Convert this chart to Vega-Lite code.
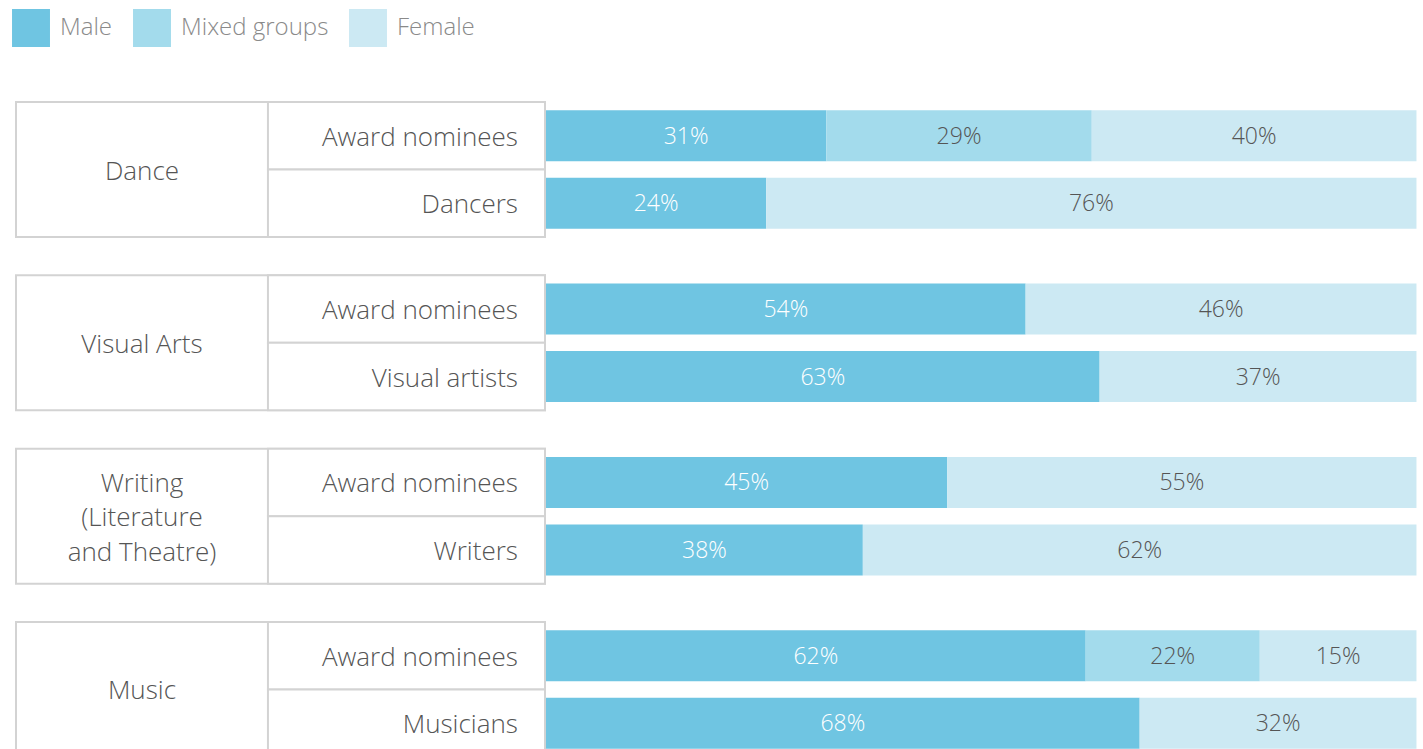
{
  "$schema": "https://vega.github.io/schema/vega-lite/v6.json",
  "width": 1423,
  "height": 749,
  "autosize": {"type": "fit", "contains": "padding"},
  "padding": 0,
  "background": "white",
  "config": {"view": {"stroke": null}, "font": "Open Sans"},
  "datasets": {
    "groups": [
      {"group": "Dance", "title": "Dance"},
      {"group": "Visual Arts", "title": "Visual Arts"},
      {"group": "Writing", "title": "Writing\n(Literature\nand Theatre)"},
      {"group": "Music", "title": "Music"}
    ],
    "rows": [
      {"group": "Dance", "kind": "Award nominees", "sub": "Award nominees"},
      {"group": "Dance", "kind": "Practitioners", "sub": "Dancers"},
      {"group": "Visual Arts", "kind": "Award nominees", "sub": "Award nominees"},
      {"group": "Visual Arts", "kind": "Practitioners", "sub": "Visual artists"},
      {"group": "Writing", "kind": "Award nominees", "sub": "Award nominees"},
      {"group": "Writing", "kind": "Practitioners", "sub": "Writers"},
      {"group": "Music", "kind": "Award nominees", "sub": "Award nominees"},
      {"group": "Music", "kind": "Practitioners", "sub": "Musicians"}
    ],
    "bars": [
      {"group": "Dance", "kind": "Award nominees", "gender": "Male", "k": 1, "value": 32.2, "label": "31%"},
      {"group": "Dance", "kind": "Award nominees", "gender": "Mixed groups", "k": 2, "value": 30.5, "label": "29%"},
      {"group": "Dance", "kind": "Award nominees", "gender": "Female", "k": 3, "value": 37.3, "label": "40%"},
      {"group": "Dance", "kind": "Practitioners", "gender": "Male", "k": 1, "value": 25.3, "label": "24%"},
      {"group": "Dance", "kind": "Practitioners", "gender": "Female", "k": 3, "value": 74.7, "label": "76%"},
      {"group": "Visual Arts", "kind": "Award nominees", "gender": "Male", "k": 1, "value": 55.1, "label": "54%"},
      {"group": "Visual Arts", "kind": "Award nominees", "gender": "Female", "k": 3, "value": 44.9, "label": "46%"},
      {"group": "Visual Arts", "kind": "Practitioners", "gender": "Male", "k": 1, "value": 63.6, "label": "63%"},
      {"group": "Visual Arts", "kind": "Practitioners", "gender": "Female", "k": 3, "value": 36.4, "label": "37%"},
      {"group": "Writing", "kind": "Award nominees", "gender": "Male", "k": 1, "value": 46.1, "label": "45%"},
      {"group": "Writing", "kind": "Award nominees", "gender": "Female", "k": 3, "value": 53.9, "label": "55%"},
      {"group": "Writing", "kind": "Practitioners", "gender": "Male", "k": 1, "value": 36.4, "label": "38%"},
      {"group": "Writing", "kind": "Practitioners", "gender": "Female", "k": 3, "value": 63.6, "label": "62%"},
      {"group": "Music", "kind": "Award nominees", "gender": "Male", "k": 1, "value": 62.0, "label": "62%"},
      {"group": "Music", "kind": "Award nominees", "gender": "Mixed groups", "k": 2, "value": 20.0, "label": "22%"},
      {"group": "Music", "kind": "Award nominees", "gender": "Female", "k": 3, "value": 18.0, "label": "15%"},
      {"group": "Music", "kind": "Practitioners", "gender": "Male", "k": 1, "value": 68.2, "label": "68%"},
      {"group": "Music", "kind": "Practitioners", "gender": "Female", "k": 3, "value": 31.8, "label": "32%"}
    ]
  },
  "layer": [
    {
      "data": {"name": "groups"},
      "mark": {"type": "rect", "fill": "white", "stroke": "#d3d3d3", "strokeWidth": 2},
      "encoding": {
        "x": {"datum": -60.88, "type": "quantitative", "scale": {"domain": [-62.72, 100.75], "nice": false, "zero": false}, "axis": null},
        "x2": {"datum": -0.11},
        "y": {"field": "group", "type": "nominal", "sort": null, "scale": {"domain": ["Dance", "Visual Arts", "Writing", "Music"], "range": [102, 757], "paddingInner": 0.221, "paddingOuter": 0}, "axis": null}
      }
    },
    {
      "data": {"name": "rows"},
      "mark": {"type": "rect", "fill": "white", "stroke": "#d3d3d3", "strokeWidth": 2},
      "encoding": {
        "x": {"datum": -31.94, "type": "quantitative", "scale": {"domain": [-62.72, 100.75], "nice": false, "zero": false}, "axis": null},
        "x2": {"datum": -0.11},
        "y": {"field": "group", "type": "nominal", "sort": null, "scale": {"domain": ["Dance", "Visual Arts", "Writing", "Music"], "range": [102, 757], "paddingInner": 0.221, "paddingOuter": 0}, "axis": null},
        "yOffset": {"field": "kind", "type": "nominal", "scale": {"domain": ["Award nominees", "Practitioners"], "paddingInner": 0, "paddingOuter": 0}}
      }
    },
    {
      "data": {"name": "groups"},
      "transform": [{"filter": "indexof(datum.title, '\\n') < 0"}],
      "mark": {"type": "text", "align": "center", "baseline": "middle", "fontSize": 26, "fontWeight": 300, "color": "#555555", "font": "Open Sans", "dy": 2},
      "encoding": {
        "x": {"datum": -46.41, "type": "quantitative", "scale": {"domain": [-62.72, 100.75], "nice": false, "zero": false}, "axis": null},
        "y": {"field": "group", "type": "nominal", "sort": null, "scale": {"domain": ["Dance", "Visual Arts", "Writing", "Music"], "range": [102, 757], "paddingInner": 0.221, "paddingOuter": 0}, "axis": null},
        "text": {"field": "title"}
      }
    },
    {
      "data": {"name": "groups"},
      "transform": [{"filter": "indexof(datum.title, '\\n') >= 0"}],
      "mark": {"type": "text", "align": "center", "baseline": "middle", "fontSize": 26, "fontWeight": 300, "color": "#555555", "lineBreak": "\n", "lineHeight": 34.5, "dy": -32.5, "font": "Open Sans"},
      "encoding": {
        "x": {"datum": -46.41, "type": "quantitative", "scale": {"domain": [-62.72, 100.75], "nice": false, "zero": false}, "axis": null},
        "y": {"field": "group", "type": "nominal", "sort": null, "scale": {"domain": ["Dance", "Visual Arts", "Writing", "Music"], "range": [102, 757], "paddingInner": 0.221, "paddingOuter": 0}, "axis": null},
        "text": {"field": "title"}
      }
    },
    {
      "data": {"name": "rows"},
      "mark": {"type": "text", "align": "right", "baseline": "middle", "fontSize": 26, "fontWeight": 300, "color": "#555555", "font": "Open Sans", "dy": 2},
      "encoding": {
        "x": {"datum": -3.22, "type": "quantitative", "scale": {"domain": [-62.72, 100.75], "nice": false, "zero": false}, "axis": null},
        "y": {"field": "group", "type": "nominal", "sort": null, "scale": {"domain": ["Dance", "Visual Arts", "Writing", "Music"], "range": [102, 757], "paddingInner": 0.221, "paddingOuter": 0}, "axis": null},
        "yOffset": {"field": "kind", "type": "nominal", "scale": {"domain": ["Award nominees", "Practitioners"], "paddingInner": 0, "paddingOuter": 0}},
        "text": {"field": "sub"}
      }
    },
    {
      "data": {"name": "bars"},
      "transform": [
        {"stack": "value", "groupby": ["group", "kind"], "sort": [{"field": "k", "order": "ascending"}], "as": ["v0", "v1"]}
      ],
      "layer": [
        {
          "mark": {"type": "bar", "height": 51},
          "encoding": {
            "x": {"field": "v0", "type": "quantitative", "scale": {"domain": [-62.72, 100.75], "nice": false, "zero": false}, "axis": null},
            "x2": {"field": "v1"},
            "y": {"field": "group", "type": "nominal", "sort": null, "scale": {"domain": ["Dance", "Visual Arts", "Writing", "Music"], "range": [102, 757], "paddingInner": 0.221, "paddingOuter": 0}, "axis": null},
            "yOffset": {"field": "kind", "type": "nominal", "scale": {"domain": ["Award nominees", "Practitioners"], "paddingInner": 0, "paddingOuter": 0}},
            "color": {
              "field": "gender", "type": "nominal",
              "scale": {"domain": ["Male", "Mixed groups", "Female"], "range": ["#6FC5E2", "#A3DBEC", "#CCE9F3"]},
              "legend": {
                "orient": "none", "legendX": 12, "legendY": 9, "direction": "horizontal", "title": null,
                "symbolType": "square", "symbolSize": 1440, "symbolStrokeWidth": 0, "symbolOpacity": 1,
                "labelFontSize": 24, "labelFontWeight": 300, "labelColor": "#8a8a8a", "labelFont": "Open Sans", "labelOffset": 10, "columnPadding": 20
              }
            }
          }
        },
        {
          "transform": [
            {"fold": ["v0", "v1"], "as": ["edge", "pos"]},
            {"aggregate": [{"op": "mean", "field": "pos", "as": "mid"}], "groupby": ["group", "kind", "gender", "label"]}
          ],
          "mark": {"type": "text", "align": "center", "baseline": "middle", "fontSize": 23, "fontWeight": 300, "font": "Open Sans", "dy": 1},
          "encoding": {
            "x": {"field": "mid", "type": "quantitative", "scale": {"domain": [-62.72, 100.75], "nice": false, "zero": false}, "axis": null},
            "y": {"field": "group", "type": "nominal", "sort": null, "scale": {"domain": ["Dance", "Visual Arts", "Writing", "Music"], "range": [102, 757], "paddingInner": 0.221, "paddingOuter": 0}, "axis": null},
            "yOffset": {"field": "kind", "type": "nominal", "scale": {"domain": ["Award nominees", "Practitioners"], "paddingInner": 0, "paddingOuter": 0}},
            "text": {"field": "label"},
            "color": {"condition": {"test": "datum.gender === 'Male'", "value": "white"}, "value": "#555555"}
          }
        }
      ]
    }
  ]
}
